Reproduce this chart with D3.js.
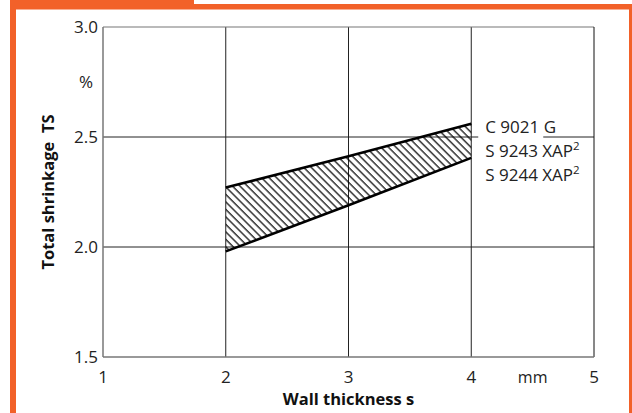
<!DOCTYPE html>
<html><head><meta charset="utf-8">
<script src="https://cdn.jsdelivr.net/npm/d3@7"></script>
<style>
html,body{margin:0;padding:0;background:#fff;}
svg{display:block;font-family:"Open Sans","Noto Sans",sans-serif;}
</style></head>
<body>
<script>
// ---- data ----
const xTicks = [1, 2, 3, 4, 5];
const yTicks = [1.5, 2.0, 2.5, 3.0];
const thickness = [2, 3, 4];            // wall thickness s (mm)
const upperTS = [2.27, 2.413, 2.56];    // upper bound total shrinkage (%)
const lowerTS = [1.98, 2.19, 2.405];    // lower bound total shrinkage (%)
const materials = ["C 9021 G", "S 9243 XAP", "S 9244 XAP"];
const superscripts = ["", "2", "2"];

const W = 632, H = 413;
const orange = "#f26129";
const svg = d3.select("body").append("svg").attr("width", W).attr("height", H);

// frame
svg.append("rect").attr("x", 0).attr("y", 0).attr("width", W).attr("height", H).attr("fill", "#fff");
svg.append("rect").attr("x", 10).attr("y", 0).attr("width", 184).attr("height", 9).attr("fill", orange);
svg.append("rect").attr("x", 10).attr("y", 4).attr("width", W - 10).attr("height", 5.5).attr("fill", orange);
svg.append("rect").attr("x", 10).attr("y", 0).attr("width", 6).attr("height", H).attr("fill", orange);
svg.append("rect").attr("x", 629).attr("y", 4).attr("width", 3).attr("height", H).attr("fill", orange);

const m = {l: 103, r: 594, t: 27, b: 357};
const x = d3.scaleLinear().domain([1, 5]).range([m.l, m.r]);
const y = d3.scaleLinear().domain([1.5, 3.0]).range([m.b, m.t]);

// hatch pattern
const defs = svg.append("defs");
const pat = defs.append("pattern").attr("id", "hatch").attr("patternUnits", "userSpaceOnUse")
  .attr("width", 5.3).attr("height", 10).attr("patternTransform", "rotate(-45)");
pat.append("line").attr("x1", 1).attr("y1", 0).attr("x2", 1).attr("y2", 10)
  .attr("stroke", "#000").attr("stroke-width", 1.2);

// grid
const g = svg.append("g");
g.selectAll("line.vg").data(xTicks.slice(1, -1)).join("line")
  .attr("x1", d => x(d)).attr("x2", d => x(d)).attr("y1", m.t).attr("y2", m.b)
  .attr("stroke", "#222").attr("stroke-width", 1);
g.selectAll("line.hg").data(yTicks.slice(1, -1)).join("line")
  .attr("x1", m.l).attr("x2", m.r).attr("y1", d => y(d)).attr("y2", d => y(d))
  .attr("stroke", "#222").attr("stroke-width", 1);
// borders
g.append("line").attr("x1", m.l).attr("x2", m.r).attr("y1", m.t).attr("y2", m.t).attr("stroke", "#777").attr("stroke-width", 1.2);
g.append("line").attr("x1", m.r).attr("x2", m.r).attr("y1", m.t).attr("y2", m.b).attr("stroke", "#111").attr("stroke-width", 1);
g.append("line").attr("x1", m.l).attr("x2", m.l).attr("y1", m.t).attr("y2", m.b).attr("stroke", "#777").attr("stroke-width", 1.5);
g.append("line").attr("x1", m.l).attr("x2", m.r).attr("y1", m.b).attr("y2", m.b).attr("stroke", "#777").attr("stroke-width", 1.5);

// band
const area = d3.area().x((d, i) => x(thickness[i])).y0((d, i) => y(lowerTS[i])).y1(d => y(d));
svg.append("path").datum(upperTS).attr("d", area).attr("fill", "url(#hatch)");
const line = d3.line().x(d => x(d[0])).y(d => y(d[1]));
svg.append("path").datum(thickness.map((t, i) => [t, upperTS[i]])).attr("d", line)
  .attr("fill", "none").attr("stroke", "#000").attr("stroke-width", 2.6);
svg.append("path").datum(thickness.map((t, i) => [t, lowerTS[i]])).attr("d", line)
  .attr("fill", "none").attr("stroke", "#000").attr("stroke-width", 2.6);

// y tick labels
const fs = 17;
svg.selectAll("text.yt").data(yTicks).join("text")
  .attr("x", m.l - 5).attr("y", d => y(d)).attr("dy", "0.36em")
  .attr("text-anchor", "end").attr("font-size", fs).attr("fill", "#222")
  .text(d => d3.format(".1f")(d));
svg.append("text").attr("x", 86).attr("y", y(2.75)).attr("dy", "0.36em")
  .attr("text-anchor", "middle").attr("font-size", fs).attr("fill", "#222").text("%");

// x tick labels
svg.selectAll("text.xt").data(xTicks).join("text")
  .attr("x", d => x(d)).attr("y", m.b + 20).attr("dy", "0.36em")
  .attr("text-anchor", "middle").attr("font-size", fs).attr("fill", "#222").text(d => d);
svg.append("text").attr("x", x(4.5)).attr("y", m.b + 20).attr("dy", "0.36em")
  .attr("text-anchor", "middle").attr("font-size", fs - 1).attr("fill", "#222").text("mm");

// axis titles
svg.append("text").attr("x", x(3)).attr("y", 399).attr("dy", "0.36em")
  .attr("text-anchor", "middle").attr("font-size", 16.5).attr("font-weight", "bold").attr("fill", "#111")
  .text("Wall thickness s");
svg.append("text").attr("transform", `translate(48,${y(2.25)}) rotate(-90)`)
  .attr("dy", "0.36em").attr("text-anchor", "middle").attr("font-size", 16.5).attr("font-weight", "bold")
  .attr("fill", "#111").attr("xml:space", "preserve").text("Total shrinkage  TS");

// material labels
svg.append("rect").attr("x", x(4) + 7).attr("y", y(2.5) - 6).attr("width", 65).attr("height", 10).attr("fill", "#fff");
const lab = svg.selectAll("text.mat").data(materials).join("text")
  .attr("x", x(4) + 14).attr("y", (d, i) => 133 + i * 24)
  .attr("font-size", fs).attr("fill", "#222");
lab.append("tspan").text(d => d);
lab.append("tspan").attr("font-size", 11.5).attr("dy", "-7").text((d, i) => superscripts[i]);
</script>
</body></html>
